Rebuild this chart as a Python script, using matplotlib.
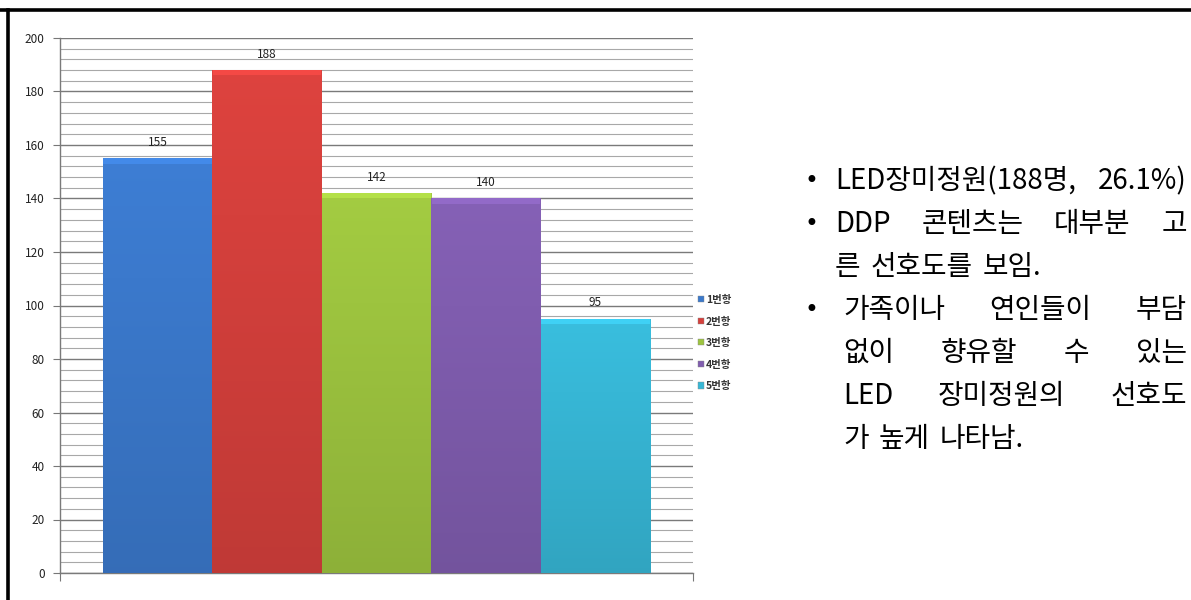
import matplotlib
matplotlib.use("Agg")
import matplotlib.pyplot as plt
from matplotlib.lines import Line2D
from matplotlib.patches import Rectangle
from matplotlib.colors import to_rgb
import numpy as np

plt.rcParams['font.family'] = ['Noto Sans CJK KR', 'DejaVu Sans']

# chart data
series = ['1번항', '2번항', '3번항', '4번항', '5번항']
values = [155, 188, 142, 140, 95]
colors = ['#3b79cc', '#d5403c', '#9dc43f', '#805daf', '#37b7d6']

# side notes: (bullet, text, justified)
notes = [
    (True, 'LED장미정원(188명, 26.1%)', True),
    (True, 'DDP 콘텐츠는 대부분 고', True),
    (False, '른 선호도를 보임.', False),
    (True, '가족이나 연인들이 부담', True),
    (False, '없이 향유할 수 있는', True),
    (False, 'LED 장미정원의 선호도', True),
    (False, '가 높게 나타남.', False),
]

W, H = 1191, 600
fig = plt.figure(figsize=(W / 100, H / 100), dpi=100)
ax = fig.add_axes([60 / W, 27 / H, 633 / W, 535 / H])

x = np.arange(len(values))
bars = ax.bar(x, values, width=1.0, color=colors, edgecolor='none', zorder=3)

# soft vertical shading on each bar
for b, c in zip(bars, colors):
    rgb = np.array(to_rgb(c))
    top = np.clip(rgb * 1.04, 0, 1)
    bot = rgb * 0.9
    grad = np.linspace(0, 1, 64)[:, None, None]
    img = top * (1 - grad) + bot * grad
    x0, y0 = b.get_x(), b.get_y()
    im = ax.imshow(img, extent=[x0, x0 + b.get_width(), y0, y0 + b.get_height()],
                   aspect='auto', zorder=3.5, interpolation='bilinear')
    im.set_clip_path(b)
    # lighter bevel along the top edge
    ax.bar(b.get_x() + b.get_width() / 2, 2.0, width=b.get_width() * 0.99,
           bottom=b.get_height() - 2.0, color=np.clip(top * 1.1, 0, 1), zorder=4)

for xi, v in zip(x, values):
    ax.text(xi, v + 6, str(v), ha='center', va='center', fontsize=8.5,
            color='#222222', zorder=5)

ax.set_ylim(0, 200)
ax.set_xlim(-0.89, len(values) - 1 + 0.89)
ax.set_yticks(np.arange(0, 201, 20))
ax.set_yticks(np.arange(0, 201, 4), minor=True)
ax.set_xticks([-0.89, len(values) - 1 + 0.89])
ax.set_xticklabels([])
ax.tick_params(axis='y', which='major', length=5, color='#777777',
               labelsize=8.5, labelcolor='#222222', pad=6)
ax.tick_params(axis='y', which='minor', length=0)
ax.tick_params(axis='x', length=6, color='#777777')
ax.grid(axis='y', which='major', color='#7a7a7a', lw=1.0, zorder=0)
ax.grid(axis='y', which='minor', color='#a8a8a8', lw=0.8, zorder=0)
for s in ['top', 'right']:
    ax.spines[s].set_visible(False)
for s in ['left', 'bottom']:
    ax.spines[s].set_color('#7a7a7a')
    ax.spines[s].set_linewidth(1.0)

handles = [Rectangle((0, 0), 1, 1, facecolor=c, edgecolor='#888888', lw=0.3) for c in colors]
fig.legend(handles, series, loc='center left',
           bbox_to_anchor=(694 / W, 1 - 343 / H), frameon=False,
           prop={'size': 7.5, 'weight': 'bold'}, handlelength=0.55,
           handleheight=0.55, handletextpad=0.2, labelspacing=1.1,
           borderaxespad=0, labelcolor='#333333')

# outer frame (top and left only)
fig.add_artist(Line2D([0, 1], [1 - 9.5 / H, 1 - 9.5 / H], color='black', lw=2.6,
                      transform=fig.transFigure))
fig.add_artist(Line2D([7.5 / W, 7.5 / W], [0, 1 - 9.5 / H], color='black', lw=2.6,
                      transform=fig.transFigure))

# right side notes, justified like the original slide text
fig.canvas.draw()
renderer = fig.canvas.get_renderer()
size = 20
left_a, left_b, right_edge = 835, 843, 1187
y0, dy = 181, 43
probe1 = fig.text(0, 0, 'a b', fontsize=size)
probe2 = fig.text(0, 0, 'ab', fontsize=size)
space = probe1.get_window_extent(renderer).width - probe2.get_window_extent(renderer).width
probe1.remove()
probe2.remove()
for i, (bullet, line, justify) in enumerate(notes):
    y = 1 - (y0 + i * dy) / H
    if bullet:
        fig.text(811 / W, y, '•', fontsize=size * 0.85, ha='center', va='center',
                 color='black', family='DejaVu Sans')
    xs = left_a if i < 3 else left_b
    words = line.split(' ')
    texts = [fig.text(0, y, w, fontsize=size, va='center', ha='left', color='black')
             for w in words]
    widths = [t.get_window_extent(renderer).width for t in texts]
    if justify and len(words) > 1:
        gap = (right_edge - xs - sum(widths)) / (len(words) - 1)
    else:
        gap = space * 1.6
    pos = xs
    for t, w in zip(texts, widths):
        t.set_x(pos / W)
        pos += w + gap

fig.savefig('out.png', dpi=100)
